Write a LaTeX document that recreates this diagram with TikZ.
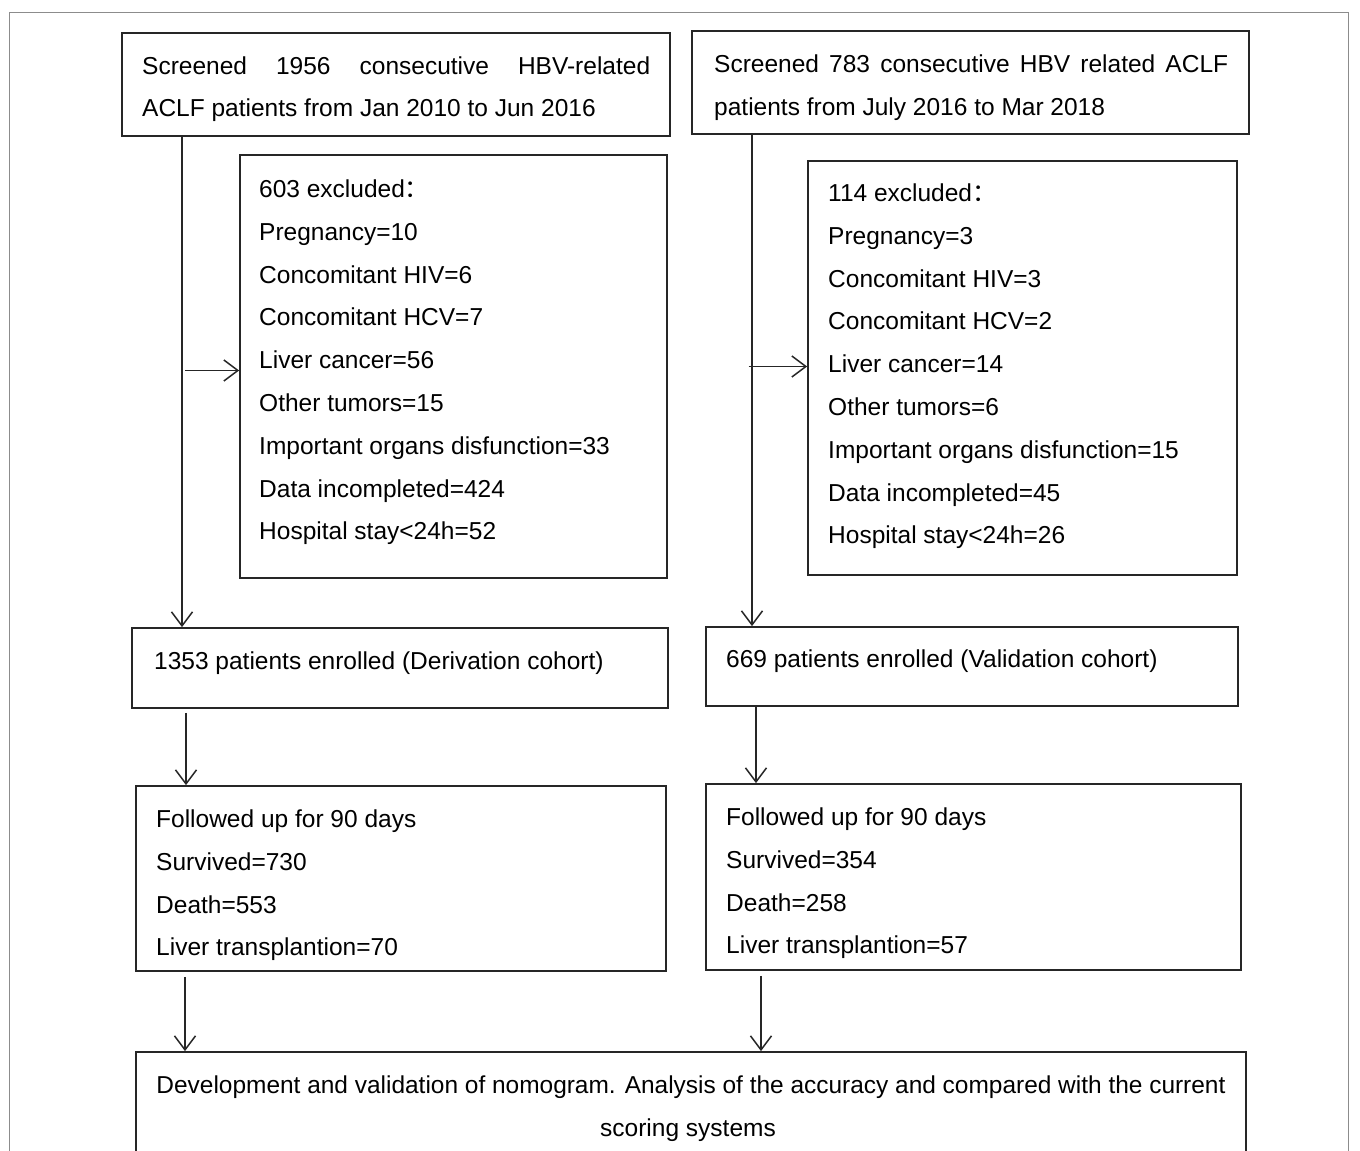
\documentclass[tikz,border=0pt]{standalone}
\usepackage{fontspec}
\setmainfont{Liberation Sans}
\newfontfamily\cjk{Noto Sans CJK SC}
\usetikzlibrary{arrows.meta}
\newcommand\flowlines[2]{\parbox[t]{#1}{\fontsize{24.5}{42.8}\selectfont\raggedright #2}}
\newcommand\fwcolon{{\cjk ：}}
\begin{document}
\begin{tikzpicture}[x=1pt,y=-1pt,
  box/.style={draw=black!85,line width=1.8pt,rectangle,inner sep=0pt},
  txt/.style={anchor=base west,inner sep=0pt,font=\fontsize{24.5}{42.8}\selectfont},
  arr/.style={draw=black!85,line width=1.5pt,-{Straight Barb[length=14pt,width=21pt,line width=1.5pt]}}]
\useasboundingbox (0,0) rectangle (1360,1151);
\clip (0,0) rectangle (1360,1151);
\fill[white] (0,0) rectangle (1360,1151);
\draw[black!45,line width=1pt] (9.5,1200) -- (9.5,12) -- (1348,12) -- (1348,1200);
% boxes
\node[box,minimum width=548pt,minimum height=103pt] (A) at (396,84.5) {};
\node[box,minimum width=557pt,minimum height=103pt] (B) at (970.5,82.5) {};
\node[box,minimum width=427pt,minimum height=423pt] (C) at (453.5,366.5) {};
\node[box,minimum width=429pt,minimum height=414pt] (D) at (1022.5,368) {};
\node[box,minimum width=536pt,minimum height=80pt] (E) at (400,668) {};
\node[box,minimum width=532pt,minimum height=79pt] (F) at (972,666.5) {};
\node[box,minimum width=530pt,minimum height=185pt] (G) at (401,878.5) {};
\node[box,minimum width=535pt,minimum height=186pt] (H) at (973.5,877) {};
\node[box,minimum width=1110pt,minimum height=123pt] (I) at (691,1113.5) {};
% texts
\node[txt] (tA) at (142,74) {\flowlines{520pt}{\makebox[508pt][s]{Screened 1956 consecutive HBV-related}\\ACLF patients from Jan 2010 to Jun 2016}};
\node[txt] (tB) at (714,72.5) {\flowlines{530pt}{\makebox[514pt][s]{Screened 783 consecutive HBV related ACLF}\\patients from July 2016 to Mar 2018}};
\node[txt] (tC) at (259,197.5) {\flowlines{400pt}{603 excluded\fwcolon\\Pregnancy=10\\Concomitant HIV=6\\Concomitant HCV=7\\Liver cancer=56\\Other tumors=15\\Important organs disfunction=33\\Data incompleted=424\\Hospital stay<24h=52}};
\node[txt] (tD) at (828,201.5) {\flowlines{400pt}{114 excluded\fwcolon\\Pregnancy=3\\Concomitant HIV=3\\Concomitant HCV=2\\Liver cancer=14\\Other tumors=6\\Important organs disfunction=15\\Data incompleted=45\\Hospital stay<24h=26}};
\node[txt] (tE) at (154,669.3) {1353 patients enrolled (Derivation cohort)};
\node[txt] (tF) at (726,667.5) {669 patients enrolled (Validation cohort)};
\node[txt] (tG) at (156,827.5) {\flowlines{500pt}{Followed up for 90 days\\Survived=730\\Death=553\\Liver transplantion=70}};
\node[txt] (tH) at (726,825.5) {\flowlines{500pt}{Followed up for 90 days\\Survived=354\\Death=258\\Liver transplantion=57}};
\node[anchor=base,inner sep=0pt,font=\fontsize{24.5}{42.8}\selectfont] (tI1) at (691,1093.5) {\resizebox{1069pt}{!}{Development and validation of nomogram. Analysis of the accuracy and compared with the current}};
\node[anchor=base,inner sep=0pt,font=\fontsize{24.5}{42.8}\selectfont] (tI2) at (688,1136.5) {scoring systems};
% connectors
\coordinate (xL) at (182,0);
\coordinate (xR) at (752,0);
\coordinate (bL) at (185,370.5);
\coordinate (bR) at (748.5,366.5);
\draw[arr] (A.south -| xL) -- (E.north -| xL);
\draw[arr] (bL) -- (C.west |- bL);
\draw[arr] (B.south -| xR) -- (F.north -| xR);
\draw[arr] (bR) -- (D.west |- bR);
\coordinate (x3) at (186,0);
\coordinate (x4) at (756,0);
\coordinate (x5) at (185,0);
\coordinate (x6) at (761,0);
\draw[arr] ([yshift=-4pt]E.south -| x3) -- (G.north -| x3);
\draw[arr] (F.south -| x4) -- (H.north -| x4);
\draw[arr] ([yshift=-5pt]G.south -| x5) -- (I.north -| x5);
\draw[arr] ([yshift=-5pt]H.south -| x6) -- (I.north -| x6);
\end{tikzpicture}
\end{document}
